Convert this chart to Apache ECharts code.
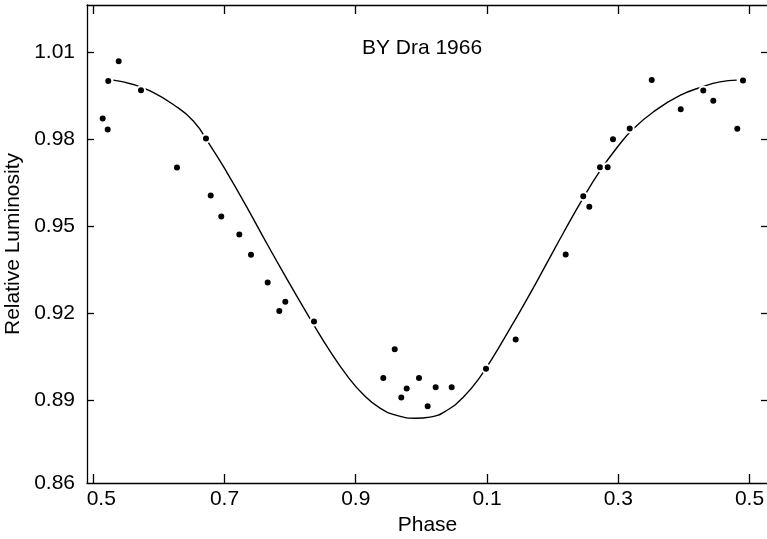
<!DOCTYPE html>
<html>
<head>
<meta charset="utf-8">
<script src="https://cdn.jsdelivr.net/npm/echarts@6/dist/echarts.min.js"></script>
<style>
html,body{margin:0;padding:0;background:#fff;}
#chart{width:767px;height:539px;}
</style>
</head>
<body>
<div id="chart"></div>
<script>
// Observed points
var obsPhase = [0.5144,0.5220,0.5229,0.5388,0.5728,0.6276,0.6718,0.6790,0.6951,0.7226,
  0.7404,0.7658,0.7927,0.7835,0.8364,0.9420,0.9594,0.9694,0.9776,0.9964,
  1.0096,1.0218,1.0462,1.0985,1.1437,1.2199,1.2467,1.2559,1.2722,1.2839,
  1.2920,1.3175,1.3510,1.3952,1.4296,1.4448,1.4814,1.4901];
var obsLum = [0.9872,0.9834,1.0001,1.0069,0.9969,0.9703,0.9803,0.9606,0.9534,0.9472,
  0.9402,0.9306,0.9240,0.9208,0.9172,0.8977,0.9076,0.8910,0.8941,0.8977,
  0.8880,0.8945,0.8945,0.9009,0.9110,0.9403,0.9604,0.9567,0.9704,0.9704,
  0.9800,0.9837,1.0004,0.9904,0.9968,0.9933,0.9836,1.0003];
// Model curve
var curvePhase = [0.5306,0.5610,0.5865,0.6220,0.6525,0.6779,0.7034,0.7338,0.7591,0.7846,
  0.8100,0.8353,0.8608,0.8862,0.9115,0.9370,0.9624,0.9914,1.0131,1.0386,
  1.0639,1.0893,1.1148,1.1401,1.1655,1.1910,1.2163,1.2467,1.2722,1.2976,
  1.3229,1.3534,1.3941,1.4296,1.4550,1.4805];
var curveLum = [1.0004,0.9989,0.9967,0.9920,0.9863,0.9780,0.9687,0.9567,0.9463,0.9360,
  0.9260,0.9163,0.9070,0.8987,0.8920,0.8873,0.8848,0.8838,0.8842,0.8865,
  0.8911,0.8980,0.9070,0.9167,0.9267,0.9372,0.9477,0.9598,0.9691,0.9770,
  0.9836,0.9894,0.9951,0.9982,0.9998,1.0004];
// Axis ticks
var xTicks = [0.5,0.7,0.9,1.1,1.3,1.5];
var yTicks = [0.89,0.92,0.95,0.98,1.01];
var yLabels = [0.8615,0.89,0.92,0.95,0.98,1.01];
var xMin = 0.4905, xMax = 1.5282, yMin = 0.8615, yMax = 1.0263;

var FONT = 'Liberation Sans, Arial, sans-serif';
var obsData = obsPhase.map(function(p,i){return [p, obsLum[i]];});
var curveData = curvePhase.map(function(p,i){return [p, curveLum[i]];});

function phaseFmt(v){ var f = v - Math.floor(v + 1e-9); return f.toFixed(1); }

var chart = echarts.init(document.getElementById('chart'), null, {renderer:'canvas'});
chart.setOption({
  animation: false,
  backgroundColor: '#fff',
  title: {
    text: 'BY Dra 1966', left: 417, top: 33, textAlign: 'center',
    textStyle: {fontFamily: FONT, fontSize: 21, fontWeight: 'normal', color: '#000'}
  },
  grid: {left: 87, right: -1, top: 5, bottom: 56, containLabel: false, outerBoundsMode: 'none'},
  xAxis: [{
    type: 'value', min: xMin, max: xMax, position: 'bottom',
    name: 'Phase', nameLocation: 'middle', nameGap: 28,
    nameTextStyle: {fontFamily: FONT, fontSize: 21, color: '#000'},
    axisLine: {show: true, lineStyle: {color: '#000', width: 1.3}},
    axisTick: {show: true, inside: true, length: 9, customValues: xTicks, lineStyle: {color: '#000', width: 1.3}},
    axisLabel: {
      customValues: xTicks, margin: 6, fontFamily: FONT, fontSize: 21, color: '#000',
      formatter: function(v){ var s = phaseFmt(v); return Math.abs(v-0.5) < 1e-6 ? '{a|' + s + '}' : s; },
      rich: {a: {padding: [0,0,0,16], fontFamily: FONT, fontSize: 21, color: '#000'}}
    },
    splitLine: {show: false}
  }, {
    type: 'value', min: xMin, max: xMax, position: 'top',
    axisLine: {show: true, lineStyle: {color: '#000', width: 1.3}},
    axisTick: {show: true, inside: true, length: 9, customValues: xTicks, lineStyle: {color: '#000', width: 1.3}},
    axisLabel: {show: false},
    splitLine: {show: false}
  }],
  yAxis: [{
    type: 'value', min: yMin, max: yMax, position: 'left',
    name: 'Relative Luminosity', nameLocation: 'middle', nameGap: 58, nameRotate: 90,
    nameTextStyle: {fontFamily: FONT, fontSize: 21, color: '#000'},
    axisLine: {show: true, lineStyle: {color: '#000', width: 1.3}},
    axisTick: {show: true, inside: true, length: 7, customValues: yTicks, lineStyle: {color: '#000', width: 1.3}},
    axisLabel: {
      customValues: yLabels, margin: 12, fontFamily: FONT, fontSize: 21, color: '#000',
      formatter: function(v){ return v.toFixed(2); }
    },
    splitLine: {show: false}
  }, {
    type: 'value', min: yMin, max: yMax, position: 'right',
    axisLine: {show: true, lineStyle: {color: '#000', width: 1.3}},
    axisTick: {show: true, inside: true, length: 7, customValues: yTicks, lineStyle: {color: '#000', width: 1.3}},
    axisLabel: {show: false},
    splitLine: {show: false}
  }],
  series: [{
    type: 'line', data: curveData, smooth: true, showSymbol: false, symbol: 'none',
    lineStyle: {color: '#000', width: 1.4}, z: 2, silent: true
  }, {
    type: 'scatter', data: obsData, symbol: 'circle', symbolSize: 8,
    itemStyle: {color: '#000', borderColor: '#fff', borderWidth: 2, opacity: 1}, z: 3, silent: true
  }]
});
</script>
</body>
</html>
